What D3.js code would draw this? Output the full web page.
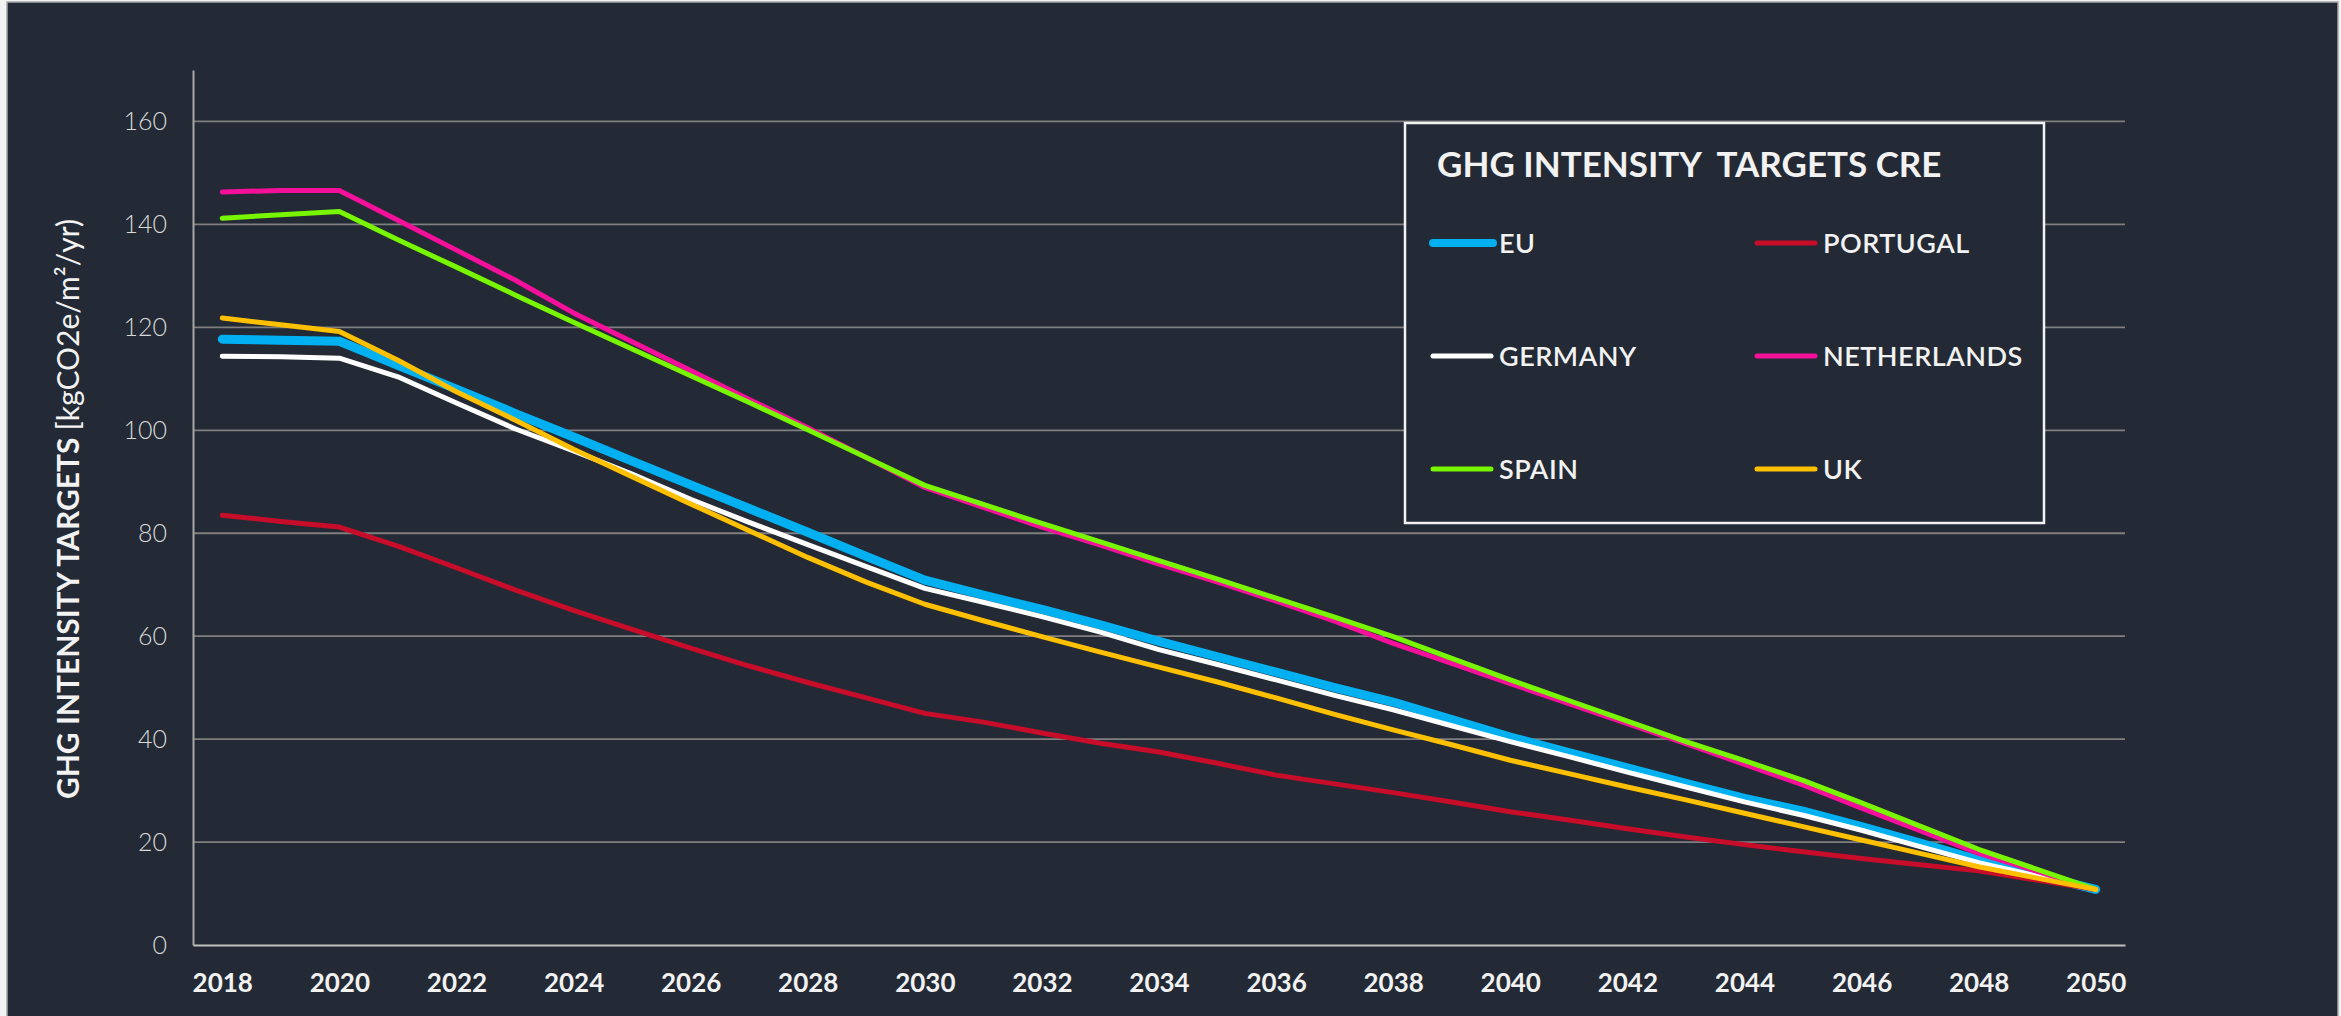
<!DOCTYPE html>
<html>
<head>
<meta charset="utf-8">
<script src="https://cdn.jsdelivr.net/npm/d3@7"></script>
<style>
  body { margin: 0; background: #f2f2f2; }
  svg text { font-family: Lato, "Open Sans", sans-serif; }
</style>
</head>
<body>
<div id="chart"></div>
<script>
// Data
const years = [2018, 2019, 2020, 2021, 2022, 2023, 2024, 2025, 2026, 2027, 2028,
  2029, 2030, 2031, 2032, 2033, 2034, 2035, 2036, 2037, 2038, 2039, 2040,
  2041, 2042, 2043, 2044, 2045, 2046, 2047, 2048, 2049, 2050];

const eu = [117.7, 117.5, 117.3, 112.6, 108.0, 103.3, 98.7, 94.0, 89.4, 84.8, 80.2,
  75.5, 70.9, 68.0, 65.2, 62.2, 59.0, 56.0, 53.0, 50.0, 47.2, 43.8, 40.4,
  37.4, 34.4, 31.4, 28.5, 26.0, 23.0, 19.8, 16.5, 13.6, 10.8];
const portugal = [83.5, 82.3, 81.2, 77.5, 73.3, 69.0, 65.0, 61.3, 57.7, 54.2, 51.0,
  48.0, 45.0, 43.3, 41.2, 39.2, 37.5, 35.3, 33.0, 31.3, 29.6, 27.8, 25.9,
  24.3, 22.6, 21.0, 19.5, 18.1, 16.8, 15.6, 14.4, 12.6, 10.8];
const germany = [114.4, 114.3, 114.0, 110.4, 105.3, 100.3, 96.0, 91.5, 86.6, 82.1, 77.8,
  73.5, 69.3, 66.6, 63.8, 60.8, 57.4, 54.5, 51.5, 48.5, 45.7, 42.6, 39.5,
  36.6, 33.6, 30.7, 27.8, 25.2, 22.3, 19.1, 16.0, 13.4, 10.8];
const netherlands = [146.3, 146.6, 146.6, 140.8, 135.0, 129.2, 122.8, 117.2, 111.6, 106.0, 100.5,
  94.7, 88.9, 85.0, 81.2, 77.7, 74.0, 70.5, 66.8, 62.9, 58.6, 54.7, 50.8,
  46.9, 43.0, 39.1, 35.1, 31.1, 26.6, 22.2, 17.8, 14.3, 10.8];
const spain = [141.2, 141.9, 142.5, 137.0, 131.7, 126.3, 121.0, 115.8, 110.6, 105.4, 100.1,
  94.7, 89.3, 85.6, 81.9, 78.3, 74.7, 71.1, 67.4, 63.7, 59.9, 55.7, 51.5,
  47.5, 43.5, 39.5, 35.8, 32.0, 27.6, 23.1, 18.6, 14.7, 10.8];
const uk = [121.8, 120.5, 119.2, 113.6, 107.5, 102.0, 96.3, 91.0, 85.7, 80.5, 75.3,
  70.5, 66.2, 63.0, 59.9, 56.9, 54.0, 51.1, 48.0, 44.8, 41.8, 38.9, 35.9,
  33.3, 30.7, 28.2, 25.6, 23.0, 20.4, 17.8, 15.2, 13.0, 10.8];

const seriesNames = ["EU", "PORTUGAL", "GERMANY", "NETHERLANDS", "SPAIN", "UK"];
const seriesValues = [eu, portugal, germany, netherlands, spain, uk];
const seriesColors = ["#00b0f0", "#c70d2a", "#ffffff", "#f5109b", "#77f600", "#ffc000"];
const seriesWidths = [9, 5, 5, 5, 5, 5];

const yTicks = [0, 20, 40, 60, 80, 100, 120, 140, 160];
const xTicks = years.filter(y => y % 2 === 0);

// Layout
const W = 2341, H = 1016;
const margin = { top: 70, right: 216, bottom: 71, left: 193 };
const width = W - margin.left - margin.right;
const height = H - margin.top - margin.bottom;

const svg = d3.select("#chart")
  .append("svg")
  .attr("width", W)
  .attr("height", H);

// dark panel with thin frame
svg.append("rect")
  .attr("x", 7).attr("y", 2)
  .attr("width", 2331).attr("height", 1016)
  .attr("fill", "#232a35")
  .attr("stroke", "#a6a6a6")
  .attr("stroke-width", 1.5);

const g = svg.append("g")
  .attr("transform", `translate(${margin.left},${margin.top})`);

const x = d3.scalePoint()
  .domain(years)
  .range([0, width])
  .padding(0.5);

const y = d3.scaleLinear()
  .domain([0, 170])
  .range([height, 0]);

// gridlines
g.append("g")
  .selectAll("line")
  .data(yTicks.filter(d => d > 0))
  .enter().append("line")
  .attr("x1", 0).attr("x2", width)
  .attr("y1", d => y(d)).attr("y2", d => y(d))
  .attr("stroke", "#7f7f7f")
  .attr("stroke-width", 1.8);

// y axis
const yAxis = g.append("g")
  .call(d3.axisLeft(y).tickValues(yTicks).tickSize(0).tickPadding(26));
yAxis.select(".domain")
  .attr("stroke", "#a6a6a6")
  .attr("stroke-width", 2);
yAxis.selectAll("text")
  .attr("fill", "#d9d9d9")
  .style("font-size", "25px")
  .style("font-weight", 300);

// x axis
const xAxis = g.append("g")
  .attr("transform", `translate(0,${height})`)
  .call(d3.axisBottom(x).tickValues(xTicks).tickSize(0).tickPadding(29));
xAxis.select(".domain")
  .attr("stroke", "#bfbfbf")
  .attr("stroke-width", 2);
xAxis.selectAll("text")
  .attr("fill", "#f2f2f2")
  .style("font-size", "26px")
  .style("font-weight", 700);

// y axis title
const yTitle = svg.append("text")
  .attr("transform", "translate(79,509) rotate(-90)")
  .attr("text-anchor", "middle")
  .attr("fill", "#f2f2f2")
  .style("font-size", "30px");
yTitle.append("tspan").style("font-weight", 700).text("GHG INTENSITY TARGETS ");
yTitle.append("tspan").style("font-weight", 400).text("[kgCO2e/m²/yr)");

// lines
const line = d3.line()
  .x((d, i) => x(years[i]))
  .y(d => y(d));

g.append("g")
  .selectAll("path")
  .data(seriesValues)
  .enter().append("path")
  .attr("d", d => line(d))
  .attr("fill", "none")
  .attr("stroke", (d, i) => seriesColors[i])
  .attr("stroke-width", (d, i) => seriesWidths[i])
  .attr("stroke-linecap", "round")
  .attr("stroke-linejoin", "round");

// legend box
const legend = svg.append("g");
legend.append("rect")
  .attr("x", 1405).attr("y", 123)
  .attr("width", 639).attr("height", 400)
  .attr("fill", "#232a35")
  .attr("stroke", "#f2f2f2")
  .attr("stroke-width", 2.5);

legend.append("text")
  .attr("x", 1437).attr("y", 177)
  .attr("fill", "#f2f2f2")
  .style("font-size", "35px")
  .style("font-weight", 700)
  .style("white-space", "pre")
  .text("GHG INTENSITY  TARGETS CRE");

const legendItems = legend.selectAll(".item")
  .data(seriesNames)
  .enter().append("g")
  .attr("class", "item")
  .attr("transform", (d, i) => `translate(${i % 2 === 0 ? 1433 : 1757},${243 + Math.floor(i / 2) * 113})`);

legendItems.append("line")
  .attr("x1", 0).attr("x2", (d, i) => i === 0 ? 60 : 58)
  .attr("y1", 0).attr("y2", 0)
  .attr("stroke", (d, i) => seriesColors[i])
  .attr("stroke-width", (d, i) => i === 0 ? 8 : 5)
  .attr("stroke-linecap", "round");

legendItems.append("text")
  .attr("x", 66)
  .attr("dy", "0.36em")
  .attr("fill", "#f2f2f2")
  .style("font-size", "27px")
  .style("font-weight", 600)
  .style("letter-spacing", "0.5px")
  .text(d => d);
</script>
</body>
</html>
